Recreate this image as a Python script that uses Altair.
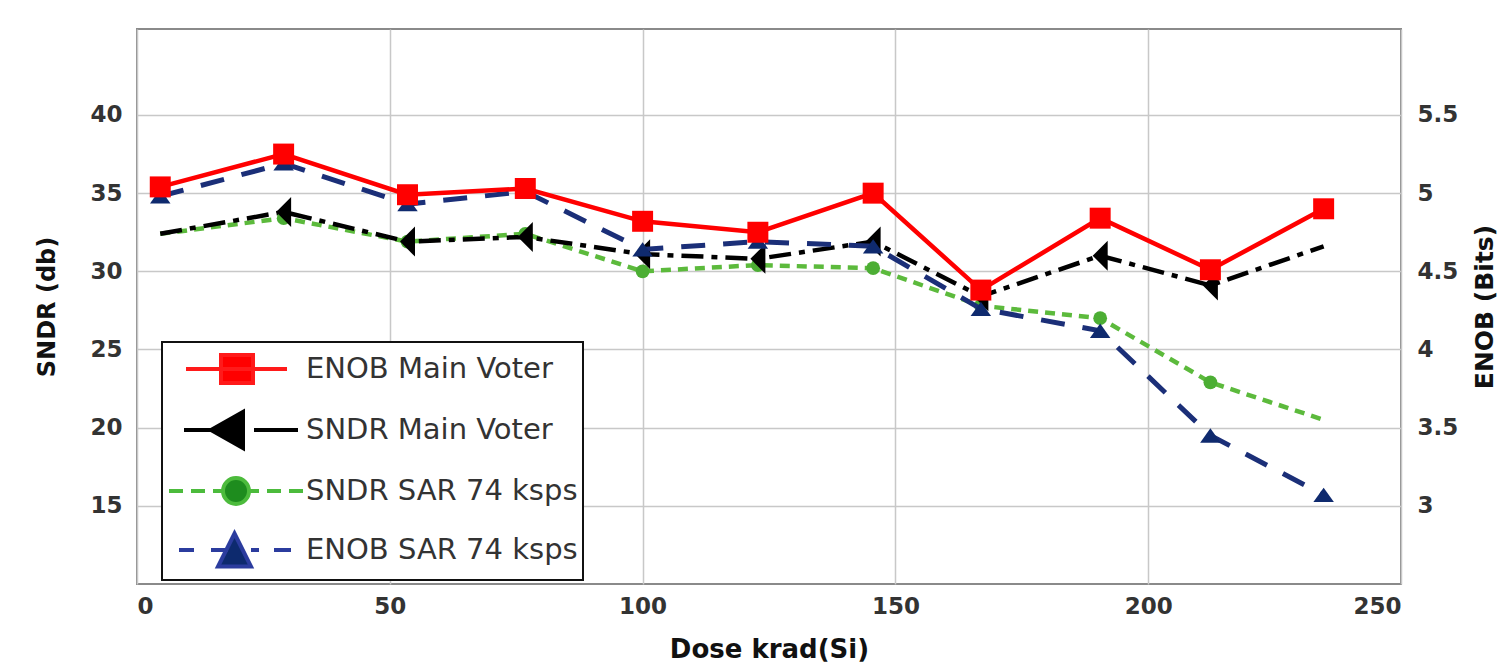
import altair as alt
import pandas as pd

# ---- data ----
dose = [4.6, 29.0, 53.5, 76.8, 100.0, 122.8, 145.6, 166.9, 190.5, 212.3, 234.7]
enob_main_voter = [5.04, 5.25, 4.99, 5.03, 4.82, 4.75, 5.00, 4.38, 4.84, 4.51, 4.90]
sndr_main_voter = [32.4, 33.8, 31.9, 32.2, 31.1, 30.8, 31.9, 28.4, 31.0, 29.1, 31.6]
sndr_sar = [32.4, 33.4, 31.9, 32.4, 30.0, 30.4, 30.2, 27.8, 27.0, 22.9, 20.5]
enob_sar = [4.98, 5.19, 4.93, 5.01, 4.64, 4.69, 4.66, 4.26, 4.12, 3.45, 3.07]

names = ["ENOB Main Voter", "SNDR Main Voter", "SNDR SAR 74 ksps", "ENOB SAR 74 ksps"]
x_ticks = [0, 50, 100, 150, 200, 250]
sndr_ticks = [15, 20, 25, 30, 35, 40]
enob_ticks = [3, 3.5, 4, 4.5, 5, 5.5]


def frame(name, vals):
    return pd.DataFrame({"dose": dose, "value": vals, "series": name})


red = frame(names[0], enob_main_voter)
black = frame(names[1], sndr_main_voter)
green = frame(names[2], sndr_sar)
blue = frame(names[3], enob_sar)

FONT = "DejaVu Sans"

X = alt.X(
    "dose:Q",
    scale=alt.Scale(domain=[0, 250], nice=False, zero=False),
    axis=alt.Axis(values=x_ticks, title="Dose krad(Si)", grid=True,
                  labelPadding=11, titlePadding=18, titleFontSize=26),
)
YL = alt.Y(
    "value:Q",
    scale=alt.Scale(domain=[10, 45.5], nice=False, zero=False),
    axis=alt.Axis(values=sndr_ticks, title="SNDR (db)", orient="left", grid=True,
                  labelPadding=15, titlePadding=30, titleFontSize=24),
)
YR = alt.Y(
    "value:Q",
    scale=alt.Scale(domain=[2.5, 6.05], nice=False, zero=False),
    axis=alt.Axis(values=enob_ticks, title="ENOB (Bits)", orient="right", grid=False,
                  labelExpr="'' + datum.value", titleAngle=270,
                  labelPadding=16, titlePadding=40, titleFontSize=25),
)


def line(df, y, color, width, dash=None):
    kw = dict(color=color, strokeWidth=width)
    if dash:
        kw["strokeDash"] = dash
    return alt.Chart(df).mark_line(**kw).encode(x=X, y=y)


def points(df, y, shape, size, color):
    return alt.Chart(df).mark_point(
        shape=shape, size=size, filled=True, color=color, opacity=1, strokeWidth=0
    ).encode(x=X, y=y)


tri_left = "M-0.5,0L0.5,-1L0.5,1Z"
tri_up = "M0,-0.7L1,0.7L-1,0.7Z"

# legend symbols (line + marker drawn as one path)
leg_paths = [
    "M-0.15,0H4.9M1.6,-0.7H3.2V0.7H1.6Z",
    "M-0.25,0H1.1M1.1,0L2.7,-0.9L2.7,0.9ZM3.25,0H5.45",
    "M-1,0H-0.3M0.1,0H0.8M1.2,0H1.7M3.0,0H3.5M3.9,0H4.6M5.0,0H5.7"
    "M1.7,0A0.65,0.65 0 1 0 3.0,0A0.65,0.65 0 1 0 1.7,0Z",
    "M-0.5,0H0.25M1.1,0H1.95M3.1,0H3.5M4.25,0H5.1M2.275,-0.825L3.1,0.825L1.45,0.825Z",
]
leg_fill = ["#ff0000", "#000000", "#1e8c1e", "#0d2a6e"]
leg_stroke = ["#ff1a1a", "#000000", "#4cbb3c", "#2b3c9e"]

L = alt.Legend(title=None)
legend_layer = alt.Chart(pd.DataFrame({"series": names})).transform_filter("false").mark_point(
    filled=True, size=1600, opacity=1, strokeWidth=4
).encode(
    fill=alt.Fill("series:N", scale=alt.Scale(domain=names, range=leg_fill), legend=L),
    stroke=alt.Stroke("series:N", scale=alt.Scale(domain=names, range=leg_stroke), legend=L),
    shape=alt.Shape("series:N", scale=alt.Scale(domain=names, range=leg_paths), legend=L),
)

left_group = alt.layer(
    line(green, YL, "#5cba3c", 4.5, [10, 7]),
    line(black, YL, "#000000", 4.5, [22, 8, 6, 8]),
    points(green.iloc[1:-1], YL, "circle", 190, "#4cae34"),
    points(black.iloc[1:-1], YL, tri_left, 900, "#000000"),
    legend_layer,
)

right_group = alt.layer(
    line(blue, YR, "#1b2f78", 5, [24, 18]),
    line(red, YR, "#ff0000", 4.5),
    points(blue, YR, tri_up, 420, "#0f2a6e"),
    points(red, YR, "square", 440, "#ff0000"),
)

chart = (
    alt.layer(left_group, right_group)
    .resolve_scale(y="independent")
    .properties(
        width=1264,
        height=555,
        autosize=alt.AutoSizeParams(type="none"),
        padding={"left": 129, "top": 21, "right": 98, "bottom": 80},
        background="white",
    )
    .configure_view(stroke="#8a8a8a", strokeWidth=2)
    .configure_axis(
        labelFont=FONT, labelFontWeight="bold", labelColor="#333333", labelFontSize=23,
        titleFont=FONT, titleFontWeight="bold", titleColor="#111111",
        gridColor="#c8c8c8", gridWidth=1.5, domain=False, ticks=False,
    )
    .configure_legend(
        orient="none", legendX=25, legendY=313,
        padding=5, rowPadding=13, labelOffset=95, labelLimit=500,
        labelFont=FONT, labelFontSize=29, labelColor="#333333",
        strokeColor="#111111", strokeWidth=2, fillColor="white",
        symbolSize=1600, symbolStrokeWidth=4, symbolOpacity=1,
    )
)

chart.save("out.html", embed_options={"renderer": "svg", "actions": False})
